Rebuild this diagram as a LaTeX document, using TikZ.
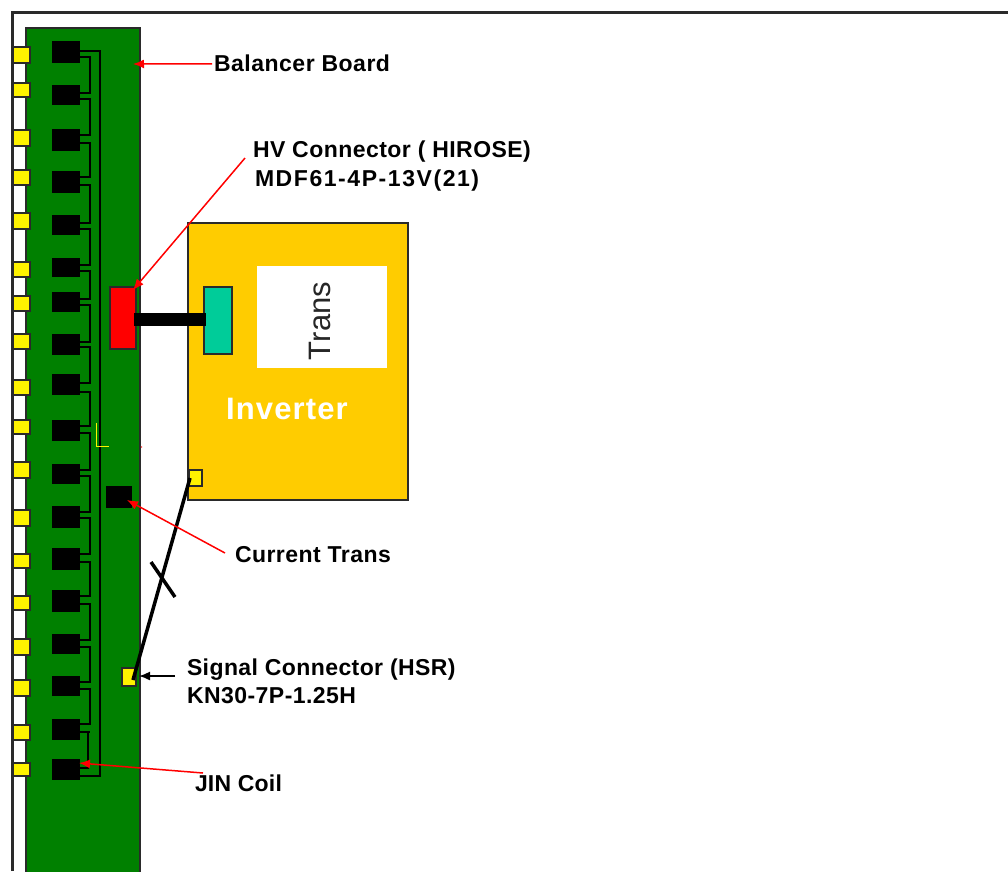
\documentclass[tikz,border=0pt]{standalone}
\usepackage{fontspec}
\setmainfont{Liberation Sans}
\usetikzlibrary{arrows.meta}
\definecolor{boardgreen}{HTML}{008000}
\definecolor{invorange}{HTML}{FFCC00}
\definecolor{connteal}{HTML}{00CC99}
\definecolor{framegray}{HTML}{2A2A2A}
\newcommand{\rbox}[7][]{%
  \pgfmathsetmacro{\rw}{#5-#3}\pgfmathsetmacro{\rh}{#6-#4}%
  \pgfmathsetmacro{\rx}{(#5+#3)/2}\pgfmathsetmacro{\ry}{(#6+#4)/2}%
  \node[partbox,#1,minimum width=\rw pt,minimum height=\rh pt] (#2) at (\rx,\ry) {#7};}
\tikzset{
  partbox/.style={rectangle,inner sep=0pt,outer sep=0pt,draw=framegray,line width=1.4pt},
  padbox/.style={fill=yellow,line width=1.4pt},
  chipbox/.style={fill=black,draw=black},
  wire/.style={draw=black,line width=1.5pt},
  redarrow/.style={draw=red,line width=1.5pt,-{Latex[length=11pt,width=9pt]}},
  blackarrow/.style={draw=black,line width=1.5pt,-{Latex[length=11pt,width=9pt]}},
  cable/.style={draw=black,line width=3.5pt},
  label/.style={inner sep=0pt,outer sep=0pt,anchor=base west,text=black,
    font=\fontsize{23}{27}\selectfont\bfseries\addfontfeature{LetterSpace=#1}},
}
\begin{document}
\begin{tikzpicture}[x=1pt,y=-1pt]
\useasboundingbox (0,0) rectangle (1008,871);
\clip (0,0) rectangle (1008,871);
\fill[white] (0,0) rectangle (1008,871);
% outer frame
\draw[framegray,line width=3pt] (12.5,871) -- (12.5,12.5) -- (1008,12.5);
% board
\rbox[fill=boardgreen]{board}{26}{28}{140}{885}{}
% pads
\foreach \n/\a/\b in {1/47/63,2/83/97,3/130/146,4/170/185,5/213/229,6/262/277,7/296/311,8/334/349,9/380/395,10/420/434,11/462/478,12/510/526,13/554/568,14/596/610,15/639/655,16/680/696,17/725/740,18/763/776}{
  \rbox[padbox]{pad\n}{13}{\a}{30}{\b}{}
}
% chips
\foreach \n/\a/\b in {1/42/62,2/86/104,3/130/150,4/172/192,5/216/234,6/259/276,7/293/311,8/335/354,9/375/394,10/421/440,11/465/483,12/507/527,13/549/569,14/591/611,15/635/653,16/677/695,17/720/739,18/760/779}{
  \rbox[chipbox]{box\n}{53}{\a}{79}{\b}{}
}
% daisy chain wires
\foreach \i/\j/\a/\b in {1/2/57/93,2/3/99/135,3/4/143/177,4/5/185/223,5/6/229/265,6/7/271/299,7/8/305/342,8/9/347/383,9/10/392/426,10/11/433/470,11/12/476/512,12/13/518/554,13/14/562/596,14/15/604/640,15/16/647/682,16/17/689/724}{
  \draw[wire] (box\i.east |- 0,\a) -- (90,\a) -- (90,\b) -- (box\j.east |- 0,\b);
}
\draw[wire] (box17.east |- 0,732) -- (90,732) (88,732) -- (88,768) -- (box18.east |- 0,768);
% return bus
\draw[wire] (box1.east |- 0,51) -- (100,51) -- (100,776) -- (box18.east |- 0,776);
% small yellow mark
\draw[yellow,line width=1pt] (96,423) -- (96,446) -- (109,446);
\fill[red!70!white] (141.5,447) circle (0.8);
% inverter
\rbox[fill=invorange]{inverter}{188}{223}{408}{500}{}
\rbox[fill=white,draw=none]{transbox}{257}{266}{387}{368}{}
\node[inner sep=0pt,rotate=90,font=\fontsize{31}{36}\selectfont,text=black!85] (transtxt) at (320,321) {Trans};
\node[inner sep=0pt,anchor=base west,font=\fontsize{31}{36}\selectfont\bfseries\addfontfeature{LetterSpace=3.6},text=white] (invtxt) at (226,419) {Inverter};
% HV connectors
\rbox[fill=red]{hv}{110}{287}{136}{349}{}
\rbox[fill=connteal]{tealconn}{204}{287}{232}{354}{}
\draw[black,line width=13pt] (hv.east |- 0,319.5) ++(-2,0) -- (tealconn.west |- 0,319.5) -- ++(2,0);
% current trans and signal connector
\rbox[chipbox]{ct}{107}{487}{131}{507}{}
\rbox[padbox]{sig}{122}{668}{136}{686}{}
\rbox[padbox]{invsig}{189}{470}{202}{486}{}
% signal cable and its break mark
\coordinate (cableA) at (190,478);
\coordinate (cableB) at (133,680);
\coordinate (crossA) at (151,562);
\coordinate (crossB) at (175,597);
\draw[cable] (cableA) -- (cableB);
\draw[cable] (crossA) -- (crossB);
% labels
\node[label=2.2] (lblbal) at (214,71) {Balancer Board};
\node[label=2] (lblhv) at (253,157) {HV Connector ( HIROSE)};
\node[label=6.8] (lblmdf) at (255,186) {MDF61-4P-13V(21)};
\node[label=2] (lblct) at (235,562) {Current Trans};
\node[label=1.8] (lblsig) at (187,675) {Signal Connector (HSR)};
\node[label=2] (lblkn) at (187,703) {KN30-7P-1.25H};
\node[label=1] (lbljin) at (195,791) {JIN Coil};
% leaders
\coordinate (tipbal) at (133,64);
\coordinate (tiphv) at (133,290);
\coordinate (tipct) at (127,500);
\coordinate (tipsig) at (139,676);
\coordinate (tipjin) at (79,763);
\coordinate (fromhv) at (245,158);
\coordinate (fromct) at (225,553);
\coordinate (fromsig) at (175,676);
\coordinate (fromjin) at (203,773);
\draw[redarrow] (lblbal.west) ++(-2,1) -- (tipbal);
\draw[redarrow] (fromhv) -- (tiphv);
\draw[redarrow] (fromct) -- (tipct);
\draw[blackarrow] (fromsig) -- (tipsig);
\draw[redarrow] (fromjin) -- (tipjin);
\end{tikzpicture}
\end{document}
